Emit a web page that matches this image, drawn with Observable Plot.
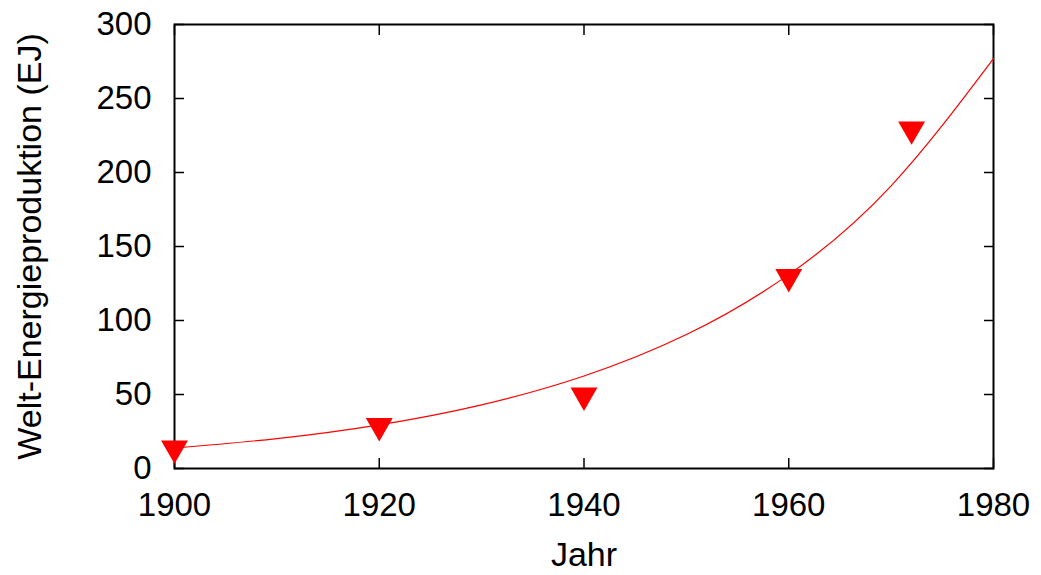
<!DOCTYPE html>
<html><head><meta charset="utf-8">
<script src="https://cdn.jsdelivr.net/npm/d3@7"></script>
<script src="https://cdn.jsdelivr.net/npm/@observablehq/plot@0.6"></script>
<style>
body{margin:0;background:#fff;}
svg{font-family:"Liberation Sans",Arial,sans-serif;}
</style></head><body><div id="chart"></div>
<script>
const years = [1900, 1920, 1940, 1960, 1972];
const energy = [13.7, 28.8, 49.4, 129.5, 229.2];
const fitYears = [1900, 1910, 1920, 1930, 1940, 1950, 1960, 1970, 1980];
const fitValues = [13.8, 20.2, 29.5, 43.0, 62.5, 90.5, 131, 191, 277];
const xTicks = [1900, 1920, 1940, 1960, 1980];
const yTicks = [0, 50, 100, 150, 200, 250, 300];
const xLabel = "Jahr";
const yLabel = "Welt-Energieproduktion (EJ)";

const points = years.map((y, i) => ({year: y, value: energy[i]}));
const fit = fitYears.map((y, i) => ({year: y, value: fitValues[i]}));

const downTriangle = {
  draw(context, size) {
    const h = Math.sqrt(size / (Math.sqrt(3) * 3));
    context.moveTo(0, 2 * h);
    context.lineTo(-Math.sqrt(3) * h, -h);
    context.lineTo(Math.sqrt(3) * h, -h);
    context.closePath();
  }
};

const chart = Plot.plot({
  width: 1041,
  height: 575,
  marginLeft: 174,
  marginRight: 48,
  marginTop: 24,
  marginBottom: 107,
  style: {fontSize: "33px", fontFamily: "Liberation Sans, Arial, sans-serif", color: "#000", background: "#fff"},
  x: {domain: [1900, 1980], ticks: xTicks, tickFormat: d => String(d)},
  y: {domain: [0, 300], ticks: yTicks},
  marks: [
    Plot.axisX({anchor: "bottom", ticks: xTicks, tickSize: -10, tickPadding: 34, tickFormat: d => String(d), label: null, strokeWidth: 1.5, fontSize: 33}),
    Plot.axisX({anchor: "top", ticks: xTicks, tickSize: -10, tickFormat: () => "", label: null, strokeWidth: 1.5}),
    Plot.axisY({anchor: "left", ticks: yTicks, tickSize: -10, tickPadding: 33, label: null, strokeWidth: 1.5, fontSize: 33}),
    Plot.axisY({anchor: "right", ticks: yTicks, tickSize: -10, tickFormat: () => "", label: null, strokeWidth: 1.5}),
    Plot.frame({stroke: "#000", strokeWidth: 2}),
    Plot.line(fit, {x: "year", y: "value", curve: "natural", stroke: "#ff0000", strokeWidth: 1.2}),
    Plot.dot(points, {x: "year", y: "value", symbol: downTriangle, r: 10, fill: "#ff0000", stroke: "none"}),
    Plot.text([xLabel], {frameAnchor: "bottom", dy: 97, fontSize: 34, fill: "#000"}),
    Plot.text([yLabel], {frameAnchor: "left", dx: -144, rotate: -90, textAnchor: "middle", fontSize: 34, fill: "#000"})
  ]
});
document.getElementById("chart").appendChild(chart);
</script></body></html>
